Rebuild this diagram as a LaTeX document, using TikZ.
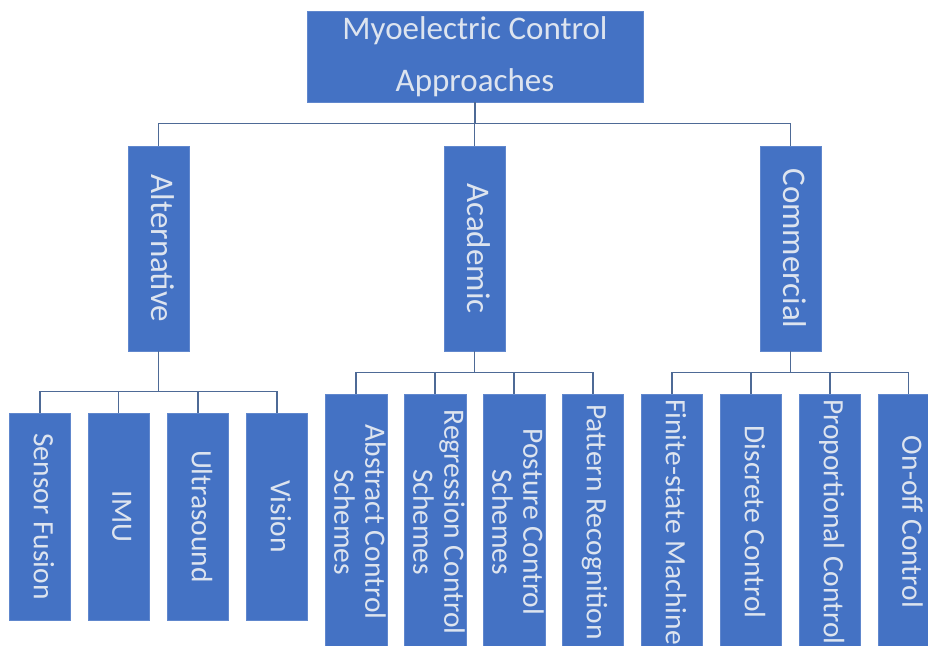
\documentclass[tikz,border=0pt]{standalone}
\usepackage{fontspec}
\newfontfamily\boxfont{Carlito}
\definecolor{boxblue}{HTML}{4472C4}
\definecolor{boxtext}{HTML}{DDE4EF}
\definecolor{linkblue}{HTML}{4E6A96}
\usetikzlibrary{calc}
\tikzset{
  box/.style={rectangle, fill=boxblue, draw=boxblue!85!white, line width=0.6pt,
    inner sep=0pt, text=boxtext, align=center},
  toplevel/.style={box, font=\boxfont\fontsize{33}{52}\selectfont},
  catbox/.style={box, minimum width=61pt, minimum height=205pt,
    font=\boxfont\fontsize{33}{36}\selectfont},
  leafbox/.style={box, minimum width=61pt, font=\boxfont\fontsize{29.5}{31}\selectfont},
  shortleaf/.style={leafbox, minimum height=207pt},
  longleaf/.style={leafbox, minimum height=256pt},
  conn/.style={draw=linkblue, line width=1.3pt}
}
\newcommand{\vtext}[1]{\rotatebox{-90}{\begin{tabular}{@{}c@{}}#1\end{tabular}}}
\begin{document}
\begin{tikzpicture}[x=1pt, y=-1pt]
  \useasboundingbox (0,0) rectangle (928,645);
  \fill[white] (0,0) rectangle (928,645);
  \clip (0,0) rectangle (928,645);

  % root
  \node[toplevel, minimum width=336pt, minimum height=91pt] (root) at (475,56.5)
    {Myoelectric Control\\Approaches};

  % categories
  \node[catbox] (alt)  at (158.5,248.5) {\vtext{Alternative}};
  \node[catbox] (acad) at (474.5,248.5) {\vtext{Academic}};
  \node[catbox] (com)  at (790.5,248.5) {\vtext{Commercial}};

  % alternative approaches
  \node[shortleaf] (sf)  at (40,516.5)  {\vtext{Sensor Fusion}};
  \node[shortleaf] (imu) at (118.5,516.5) {\vtext{IMU}};
  \node[shortleaf] (us)  at (198,516.5) {\vtext{Ultrasound}};
  \node[shortleaf] (vis) at (277,516.5) {\vtext{Vision}};

  % academic approaches
  \node[longleaf] (abs) at (356,522) {\vtext{Abstract Control\\Schemes}};
  \node[longleaf] (reg) at (435,522) {\vtext{Regression Control\\Schemes}};
  \node[longleaf] (pos) at (514,522) {\vtext{Posture Control\\Schemes}};
  \node[longleaf] (pat) at (593,522) {\vtext{Pattern Recognition}};

  % commercial approaches
  \node[longleaf] (fsm) at (672,522) {\vtext{Finite-state Machine}};
  \node[longleaf] (dis) at (751,522) {\vtext{Discrete Control}};
  \node[longleaf] (pro) at (830,522) {\vtext{Proportional Control}};
  \node[longleaf] (onf) at (908.5,522) {\vtext{On-off Control}};

  % root to categories
  \coordinate (rootbus) at ($(root.south)+(0,21)$);
  \draw[conn] (root.south) -- (rootbus);
  \draw[conn] (alt.north) -- ++(0,-22.5) -| (com.north);
  \draw[conn] (acad.north) -- ++(0,-22.5);

  % alternative to its children
  \coordinate (altbus) at ($(alt.south)+(0,41)$);
  \draw[conn] (alt.south) -- (altbus);
  \draw[conn] (sf.north) -- ++(0,-21) -| (vis.north);
  \draw[conn] (imu.north) -- ++(0,-21);
  \draw[conn] (us.north) -- ++(0,-21);

  % academic to its children
  \coordinate (acadbus) at ($(acad.south)+(0,22)$);
  \draw[conn] (acad.south) -- (acadbus);
  \draw[conn] (abs.north) -- ++(0,-21) -| (pat.north);
  \draw[conn] (reg.north) -- ++(0,-21);
  \draw[conn] (pos.north) -- ++(0,-21);

  % commercial to its children
  \coordinate (combus) at ($(com.south)+(0,22)$);
  \draw[conn] (com.south) -- (combus);
  \draw[conn] (fsm.north) -- ++(0,-21) -| (onf.north);
  \draw[conn] (dis.north) -- ++(0,-21);
  \draw[conn] (pro.north) -- ++(0,-21);
\end{tikzpicture}
\end{document}
